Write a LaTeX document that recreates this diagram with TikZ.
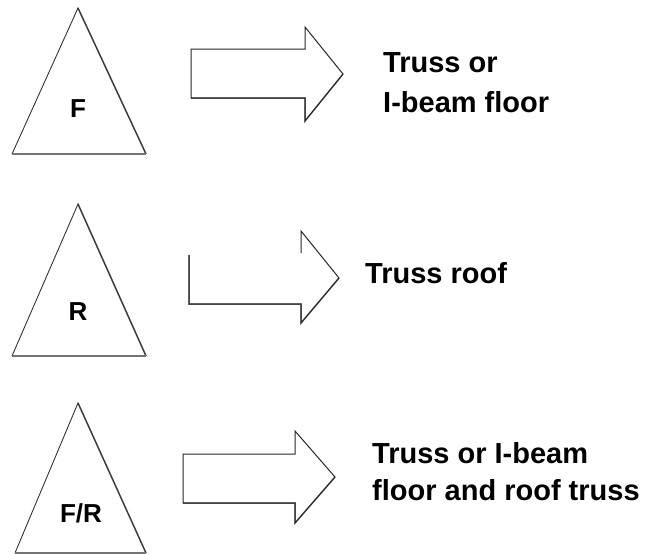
\documentclass[tikz,border=0pt]{standalone}
\usepackage{fontspec}
\setmainfont{Liberation Sans}
\begin{document}
\begin{tikzpicture}[x=1pt,y=-1pt,
  edge/.style={draw=black!80,line width=0.9pt,line join=miter},
  shadeedge/.style={draw=black!55,line width=1.6pt},
  baseedge/.style={draw=black!55,line width=2pt},
  blockarrow/.style={draw=black!85,line width=1pt,line join=miter},
  arrowshadow/.style={draw=black!50,line width=1.6pt},
  tag/.style={font=\fontsize{26}{26}\selectfont\bfseries,inner sep=0pt,anchor=base},
  caption/.style={font=\fontsize{29}{40}\selectfont\bfseries,inner sep=0pt,anchor=base west,align=left},
  caption3/.style={font=\fontsize{29}{37}\selectfont\bfseries,inner sep=0pt,anchor=base west,align=left}]
\useasboundingbox (0,0) rectangle (654,554);

% descender of a line cut off above the picture
\node[font=\fontsize{28}{28}\selectfont,inner sep=0pt,anchor=base] (cut) at (72,-7) {g};

% ---- floor symbol
\coordinate (t1a) at (78,8);
\coordinate (t1l) at (12,154);
\coordinate (t1r) at (146,154);
\draw[shadeedge] (t1a) -- (t1r);
\draw[edge] (t1l) -- (t1a) -- (t1r);
\draw[baseedge] (t1l) -- (t1r);
\node[tag] (f) at (78,117) {F};

% ---- roof symbol
\coordinate (t2a) at (78,204);
\coordinate (t2l) at (12,356);
\coordinate (t2r) at (146,356);
\draw[shadeedge] (t2a) -- (t2r);
\draw[edge] (t2l) -- (t2a) -- (t2r);
\draw[baseedge] (t2l) -- (t2r);
\node[tag] (r) at (78,320) {R};

% ---- floor/roof symbol
\coordinate (t3a) at (78,403);
\coordinate (t3l) at (15,553);
\coordinate (t3r) at (146,553);
\draw[shadeedge] (t3a) -- (t3r);
\draw[edge] (t3l) -- (t3a) -- (t3r);
\draw[baseedge] (t3l) -- (t3r);
\node[tag] (fr) at (81,522) {F/R};

% ---- block arrow, first row
\draw[arrowshadow] (191,98) -- (305,98) -- (305,121) -- (343,74);
\draw[blockarrow] (191,49) -- (305,49) -- (305,27) -- (343,74) -- (305,121)
  -- (305,98) -- (191,98) -- cycle;

% ---- open arrow, second row
\draw[arrowshadow] (189,255) -- (189,304) -- (301,304) -- (301,323) -- (339,278);
\draw[blockarrow] (189,255) -- (189,304) -- (301,304) -- (301,323) -- (339,278)
  -- (301,231) -- (301,253);

% ---- block arrow, third row
\draw[arrowshadow] (183,503) -- (295,503) -- (295,523) -- (335,477);
\draw[blockarrow] (183,454) -- (295,454) -- (295,431) -- (335,477) -- (295,523)
  -- (295,503) -- (183,503) -- cycle;

% ---- captions (base anchor sits on the last line)
\node[caption] (c1) at (383,112) {Truss or\\I-beam floor};
\node[caption] (c2) at (365,283) {Truss roof};
\node[caption3] (c3) at (372,500) {Truss or I-beam\\floor and roof truss};
\end{tikzpicture}
\end{document}
